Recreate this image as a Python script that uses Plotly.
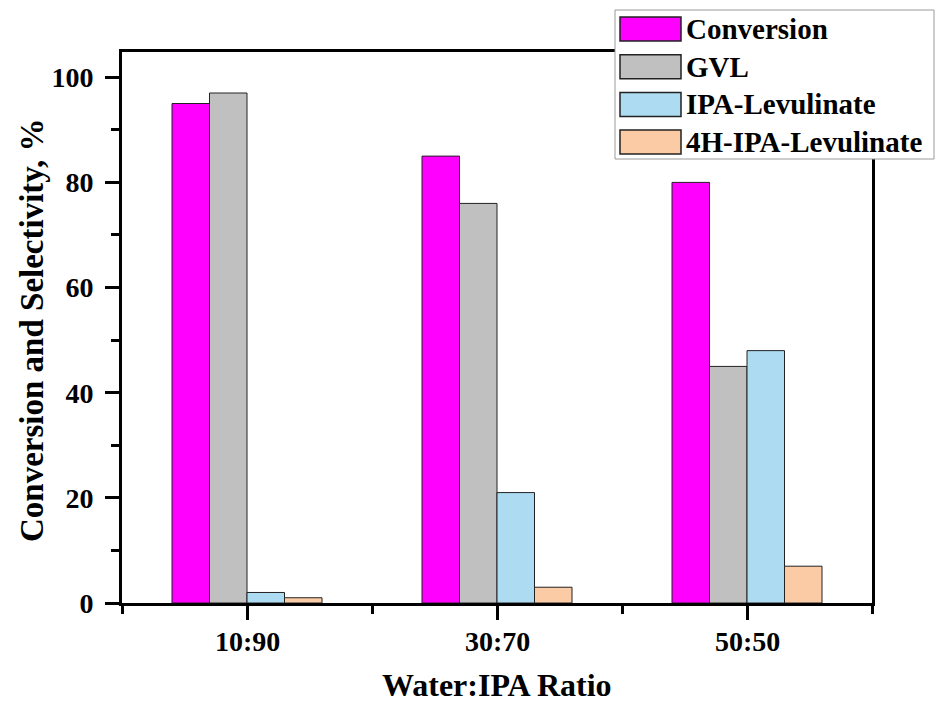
import plotly.graph_objects as go

# Water:IPA solvent ratios and measured conversion / product selectivities (%)
ratios = ["10:90", "30:70", "50:50"]
series_names = ["Conversion", "GVL", "IPA-Levulinate", "4H-IPA-Levulinate"]
conversion = [95, 85, 80]
gvl = [97, 76, 45]
ipa_levulinate = [2, 21, 48]
h4_ipa_levulinate = [1, 3, 7]
y_ticks = [0, 20, 40, 60, 80, 100]

colors = ["#FF00FF", "#C0C0C0", "#ADDCF2", "#FBCBA5"]
values = [conversion, gvl, ipa_levulinate, h4_ipa_levulinate]
positions = list(range(len(ratios)))

FONT = "Liberation Serif, Times New Roman, serif"

fig = go.Figure()
for name, vals, col in zip(series_names, values, colors):
    fig.add_trace(go.Bar(
        x=positions, y=vals, name=name,
        marker=dict(color=col, line=dict(color="#222222", width=1)),
        showlegend=False,
    ))

fig.update_layout(
    width=940, height=706,
    margin=dict(l=122, r=68, t=52, b=103),
    paper_bgcolor="white", plot_bgcolor="white",
    barmode="group", bargap=0.4, bargroupgap=0,
    font=dict(family=FONT, color="black"),
)

fig.update_xaxes(
    range=[-0.5, 2.5], automargin=False,
    tickvals=positions, showticklabels=False,
    ticks="outside", ticklen=14, tickwidth=3, tickcolor="black",
    minor=dict(tickvals=[-0.5, 0.5, 1.5, 2.5], ticks="outside",
               ticklen=8, tickwidth=3, tickcolor="black"),
    showline=True, linewidth=3, linecolor="black", mirror=True,
    showgrid=False, zeroline=False,
)

fig.update_yaxes(
    range=[0, 104.8], automargin=False,
    tickvals=y_ticks,
    ticks="outside", ticklen=14, tickwidth=3, tickcolor="black",
    minor=dict(dtick=10, ticks="outside", ticklen=8, tickwidth=3,
               tickcolor="black"),
    tickfont=dict(family=FONT, size=28, weight="bold"),
    ticklabelstandoff=6,
    showline=True, linewidth=3, linecolor="black", mirror=True,
    showgrid=False, zeroline=False,
)

# Helpers converting page pixels to paper coordinates of the plot area
def px_x(px):
    return (px - 122) / 750.0

def px_y(py):
    return (603 - py) / 551.0

annotations = [
    dict(xref="paper", yref="paper", x=px_x(497), y=px_y(705),
         xanchor="center", yanchor="bottom", showarrow=False,
         text="Water:IPA Ratio",
         font=dict(family=FONT, size=32, weight="bold", color="black")),
    dict(xref="paper", yref="paper", x=px_x(32), y=px_y(330),
         xanchor="center", yanchor="middle", showarrow=False,
         textangle=-90, text="Conversion and Selectivity, %",
         font=dict(family=FONT, size=33, weight="bold", color="black")),
]

# Category labels under the x axis, placed at each category position
for pos, label in zip(positions, ratios):
    annotations.append(dict(xref="x", yref="paper", x=pos, y=px_y(641),
                            xanchor="center", yanchor="middle",
                            showarrow=False, text=label,
                            font=dict(family=FONT, size=28, weight="bold",
                                      color="black")))

# Legend box laid over the top-right frame
shapes = [dict(type="rect", xref="paper", yref="paper",
               x0=px_x(615), x1=px_x(934), y0=px_y(159), y1=px_y(10),
               fillcolor="white", line=dict(color="#9a9a9a", width=1),
               layer="above")]
for i, (name, col) in enumerate(zip(series_names, colors)):
    top = 17 + i * 37.7
    shapes.append(dict(type="rect", xref="paper", yref="paper",
                       x0=px_x(620), x1=px_x(681),
                       y0=px_y(top + 24), y1=px_y(top),
                       fillcolor=col, line=dict(color="#222222", width=1.5),
                       layer="above"))
    annotations.append(dict(xref="paper", yref="paper",
                            x=px_x(684), y=px_y(top + 12),
                            xanchor="left", yanchor="middle",
                            text=name, showarrow=False,
                            font=dict(family=FONT, size=29, weight="bold",
                                      color="black")))

fig.update_layout(shapes=shapes, annotations=annotations)

fig.write_html("out.html")
